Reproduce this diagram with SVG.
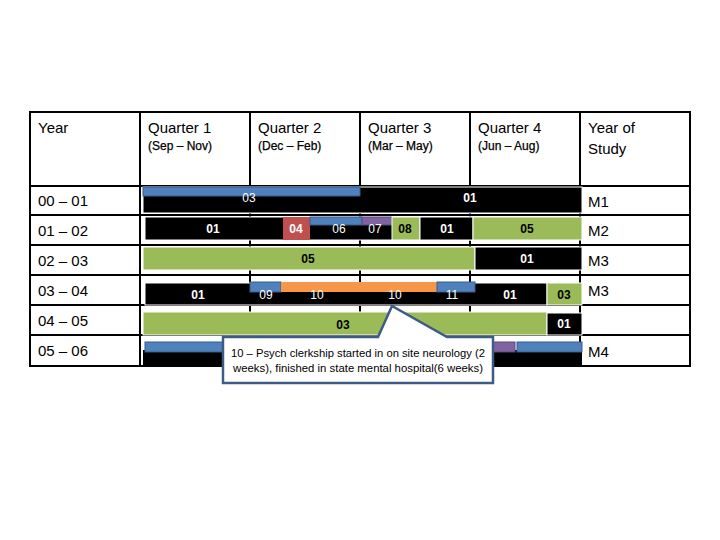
<svg xmlns="http://www.w3.org/2000/svg" width="720" height="540" viewBox="0 0 720 540">
<style>
.grid{stroke:#000;stroke-width:2;fill:none}
.hd{font-family:"Liberation Sans",Arial,sans-serif;font-size:15px;fill:#000}
.sub{font-family:"Liberation Sans",Arial,sans-serif;font-size:12px;fill:#000;stroke:#000;stroke-width:0.25}
.lbl{font-family:"Liberation Sans",Arial,sans-serif;font-size:12px;fill:#fff;text-anchor:middle}
.lblb{font-family:"Liberation Sans",Arial,sans-serif;font-size:12px;font-weight:bold;fill:#fff;text-anchor:middle}
.dk{font-family:"Liberation Sans",Arial,sans-serif;font-size:12px;font-weight:bold;fill:#000;text-anchor:middle}
.blk{fill:#000;stroke:#fff;stroke-width:1}
.blue{fill:#4f81bd;stroke:#385d8a;stroke-width:1}
.red{fill:#c0504d}
.green{fill:#9bbb59;stroke:#fff;stroke-width:1}
.purple{fill:#8064a2;stroke:#5f497a;stroke-width:1}
.orange{fill:#f79646}
.co{font-family:"Liberation Sans",Arial,sans-serif;font-size:10.5px;fill:#000;text-anchor:middle}
</style>
<rect width="720" height="540" fill="#fff"/>
<g id="table">
<rect class="grid" x="30" y="112" width="660" height="254"/>
<path class="grid" d="M140,112V366M250,112V366M360,112V366M470,112V366M580,112V366M30,186H690M30,215H690M30,245H690M30,275H690M30,305H690M30,335H690"/>
<text class="hd" x="38" y="133">Year</text>
<text class="hd" x="148" y="133">Quarter 1</text>
<text class="sub" x="148" y="150">(Sep – Nov)</text>
<text class="hd" x="258" y="133">Quarter 2</text>
<text class="sub" x="258" y="150">(Dec – Feb)</text>
<text class="hd" x="368" y="133">Quarter 3</text>
<text class="sub" x="368" y="150">(Mar – May)</text>
<text class="hd" x="478" y="133">Quarter 4</text>
<text class="sub" x="478" y="150">(Jun – Aug)</text>
<text class="hd" x="588" y="133">Year of</text>
<text class="hd" x="588" y="154">Study</text>
<text class="hd" x="38" y="206">00 – 01</text>
<text class="hd" x="38" y="236">01 – 02</text>
<text class="hd" x="38" y="266">02 – 03</text>
<text class="hd" x="38" y="296">03 – 04</text>
<text class="hd" x="38" y="326">04 – 05</text>
<text class="hd" x="38" y="356">05 – 06</text>
<text class="hd" x="588" y="207">M1</text>
<text class="hd" x="588" y="236">M2</text>
<text class="hd" x="588" y="266">M3</text>
<text class="hd" x="588" y="296">M3</text>
<text class="hd" x="588" y="357">M4</text>
</g>
<g id="row1">
<rect class="blk" x="143" y="187" width="439" height="26"/>
<rect class="blue" x="143" y="187" width="217" height="9"/>
<text class="lbl" x="249" y="202">03</text>
<text class="lblb" x="470" y="202">01</text>
</g>
<g id="row2">
<rect class="blk" x="145" y="217" width="328" height="23"/>
<text class="lblb" x="213" y="233">01</text>
<rect class="red" x="283" y="217" width="27" height="23"/>
<text class="lblb" x="296" y="233">04</text>
<rect class="blue" x="310" y="217" width="52" height="8"/>
<rect class="purple" x="362" y="217" width="30" height="8"/>
<text class="lbl" x="339" y="233">06</text>
<text class="lbl" x="375" y="233">07</text>
<rect class="green" x="392" y="217" width="28" height="23"/>
<text class="dk" x="405" y="233">08</text>
<rect class="blk" x="420" y="217" width="53" height="23"/>
<text class="lblb" x="447" y="233">01</text>
<rect class="green" x="473" y="217" width="109" height="23"/>
<text class="dk" x="527" y="233">05</text>
</g>
<g id="row3">
<rect class="green" x="143" y="247" width="332" height="23"/>
<text class="dk" x="308" y="263">05</text>
<rect class="blk" x="475" y="247" width="107" height="23"/>
<text class="lblb" x="527" y="263">01</text>
</g>
<g id="row4">
<rect class="blk" x="145" y="283" width="402" height="22"/>
<rect class="blue" x="250" y="282" width="31" height="10"/>
<rect class="orange" x="281" y="282" width="156" height="10"/>
<rect class="blue" x="437" y="282" width="38" height="10"/>
<text class="lblb" x="198" y="299">01</text>
<text class="lbl" x="266" y="299">09</text>
<text class="lbl" x="317" y="299">10</text>
<text class="lbl" x="395" y="299">10</text>
<text class="lbl" x="452" y="299">11</text>
<text class="lblb" x="510" y="299">01</text>
<rect class="green" x="547" y="283" width="35" height="22"/>
<text class="dk" x="564" y="299">03</text>
</g>
<g id="row5">
<rect class="green" x="143" y="312" width="404" height="23"/>
<text class="dk" x="343" y="329">03</text>
<rect class="blk" x="547" y="313" width="35" height="22"/>
<text class="lblb" x="564" y="328">01</text>
</g>
<g id="row6">
<rect x="143" y="350" width="439" height="15" fill="#000"/>
<rect class="blue" x="145" y="342" width="348" height="10"/>
<rect class="purple" x="493" y="342" width="22" height="10"/>
<rect class="blue" x="517" y="342" width="65" height="10"/>
</g>
<g id="callout">
<path d="M223,337H378L392,306L447,337H493V383H223Z" fill="#fff" stroke="#3d5b85" stroke-width="2.5" stroke-linejoin="miter"/>
<text class="co" x="358" y="357" textLength="254" lengthAdjust="spacingAndGlyphs">10 – Psych clerkship started in on site neurology (2</text>
<text class="co" x="358" y="372" textLength="250" lengthAdjust="spacingAndGlyphs">weeks), finished in state mental hospital(6 weeks)</text>
</g>
</svg>
